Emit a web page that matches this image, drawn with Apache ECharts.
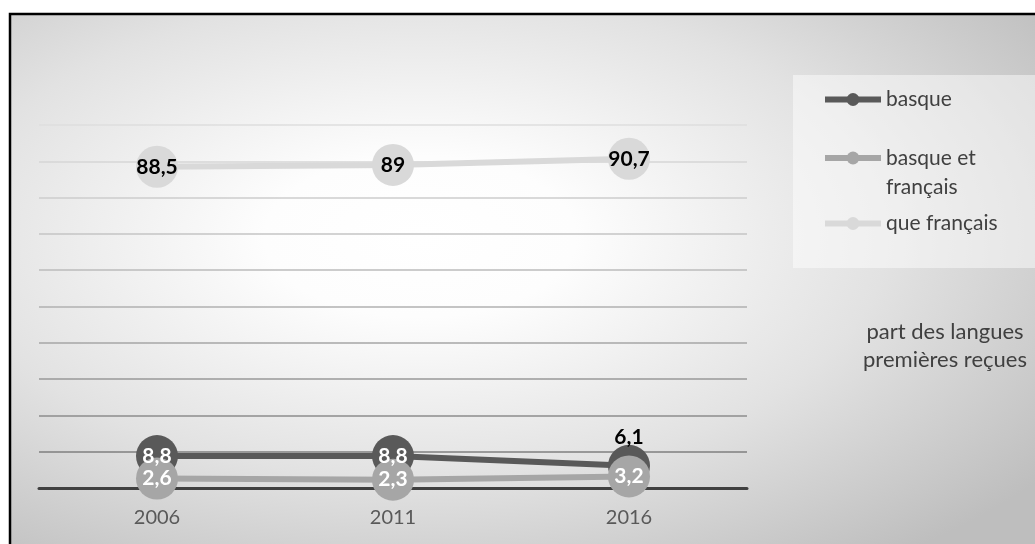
<!DOCTYPE html>
<html><head><meta charset="utf-8">
<script src="https://cdn.jsdelivr.net/npm/echarts@6/dist/echarts.min.js"></script>
<style>html,body{margin:0;padding:0;background:#fff}#c{width:1035px;height:544px}</style>
</head><body><div id="c"></div>
<script>
const years = ['2006', '2011', '2016'];
const basque = [8.8, 8.8, 6.1];
const basqueFr = [2.6, 2.3, 3.2];
const queFr = [88.5, 89, 90.7];
const seriesNames = ['basque', 'basque et français', 'que français'];
const legendLabels = ['basque', ' \nbasque et\nfrançais', 'que français'];
const titleText = 'part des langues\npremières reçues';
const yMin = 0, yMax = 100, yInterval = 10;

const FONT = 'Lato';
const fmt = p => String(p.value).replace('.', ',');
const chart = echarts.init(document.getElementById('c'), null, {renderer: 'canvas'});

function lineSeries(name, values, color, labelColor, overrides) {
  return {
    name: name, type: 'line', data: values.map((v, i) => overrides && overrides[i] ? Object.assign({value: v}, overrides[i]) : v),
    symbol: 'circle', symbolSize: 42,
    lineStyle: {width: 6, color: color},
    itemStyle: {color: color},
    emphasis: {disabled: true},
    label: {show: true, position: 'inside', color: labelColor, fontWeight: 'bold', fontSize: 21, fontFamily: FONT, formatter: fmt}
  };
}
const legendText = {fontFamily: FONT, fontSize: 21, color: '#404040'};
function legendAt(i, top, extraText) {
  return {data: [seriesNames[i]], left: 822, top: top, orient: 'vertical', itemWidth: 56, itemHeight: 16, padding: 0,
    lineStyle: {width: 6}, formatter: () => legendLabels[i], textStyle: Object.assign({}, legendText, extraText || {})};
}

const option = {
  animation: false,
  graphic: [
    {type: 'rect', z: -20, silent: true, x: 10, y: 14, scaleX: 1025 / 530,
      shape: {x: 0, y: 0, width: 530, height: 530},
      style: {fill: {type: 'radial', x: 0.4, y: 0.42, r: 0.76, colorStops: [
        {offset: 0, color: '#ffffff'}, {offset: 0.2, color: '#fdfdfd'}, {offset: 0.6, color: '#e2e2e2'}, {offset: 1, color: '#bebebe'}]}}},
    {type: 'rect', z: -19, silent: true, shape: {x: 793, y: 75, width: 250, height: 193}, style: {fill: 'rgba(255,255,255,0.47)'}},
    {type: 'rect', z: -18, silent: true, shape: {x: 10, y: 14, width: 1040, height: 545}, style: {fill: 'none', stroke: '#000', lineWidth: 2.5}}
  ],
  title: {text: titleText, left: 945, top: 318, textAlign: 'center', padding: 0,
    textStyle: {fontFamily: FONT, fontSize: 22, fontWeight: 'normal', color: '#404040', lineHeight: 28}},
  legend: [
    legendAt(0, 89),
    legendAt(1, 114.5, {lineHeight: 29}),
    legendAt(2, 213)
  ],
  grid: {left: 39, right: 288, top: 125, bottom: 56, containLabel: false},
  xAxis: {type: 'category', data: years, boundaryGap: true,
    axisLine: {lineStyle: {color: '#404040', width: 3}}, axisTick: {show: false},
    axisLabel: {color: '#595959', fontSize: 20, fontFamily: FONT, margin: 20}},
  yAxis: {type: 'value', min: yMin, max: yMax, interval: yInterval,
    axisLabel: {show: false}, axisLine: {show: false}, axisTick: {show: false},
    splitLine: {lineStyle: {width: 1.5, color: ['#404040', '#7f7f7f', '#8c8c8c', '#999999', '#a6a6a6', '#b0b0b0', '#bbbbbb', '#c4c4c4', '#cdcdcd', '#d6d6d6', '#dedede']}}},
  series: [
    lineSeries(seriesNames[0], basque, '#595959', '#ffffff', {2: {label: {position: 'top', distance: 0, offset: [0, 3], color: '#000000'}}}),
    lineSeries(seriesNames[1], basqueFr, '#a6a6a6', '#ffffff'),
    lineSeries(seriesNames[2], queFr, '#d9d9d9', '#000000')
  ]
};
chart.setOption(option);
</script></body></html>
